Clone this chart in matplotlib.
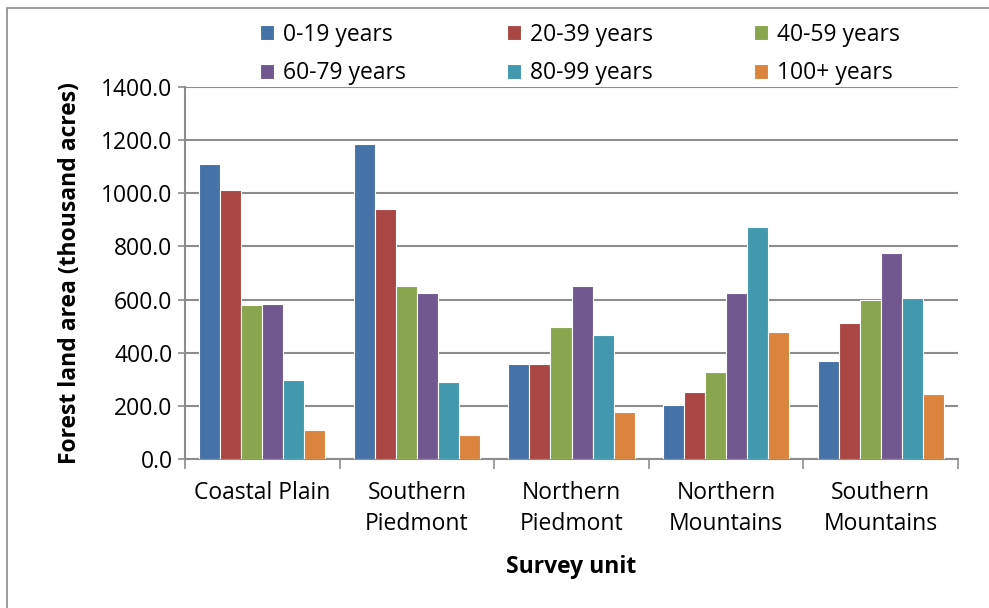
import numpy as np
import matplotlib
matplotlib.use("Agg")
import matplotlib.pyplot as plt
from matplotlib.patches import Rectangle
from matplotlib.ticker import FormatStrFormatter

# data
units = ["Coastal Plain", "Southern\nPiedmont", "Northern\nPiedmont",
         "Northern\nMountains", "Southern\nMountains"]
age_classes = ["0-19 years", "20-39 years", "40-59 years",
               "60-79 years", "80-99 years", "100+ years"]
age_0_19 = [1110, 1184, 356, 204, 370]
age_20_39 = [1012, 940, 356, 254, 510]
age_40_59 = [580, 651, 495, 328, 600]
age_60_79 = [583, 623, 651, 625, 774]
age_80_99 = [297, 288, 467, 874, 605]
age_100p = [110, 91, 178, 479, 245]
colors = ["#4572A7", "#AA4643", "#89A54E", "#71588F", "#4198AF", "#DB843D"]

series = [age_0_19, age_20_39, age_40_59, age_60_79, age_80_99, age_100p]

plt.rcParams['font.family'] = ['Open Sans', 'DejaVu Sans']
fs = 16.5

fig = plt.figure(figsize=(9.89, 6.08), dpi=100)
ax = fig.add_axes([185 / 989, 1 - 459 / 608, (958 - 185) / 989, (459 - 87) / 608])

# outer chart border
fig.patches.append(Rectangle((7 / 989, -0.1), 1.1, 1 - 8 / 608 + 0.1,
                             transform=fig.transFigure, fill=False,
                             edgecolor="#8c8c8c", linewidth=1.2))

x = np.arange(len(units))
w = 0.136
bars = []
for i, (vals, c, lab) in enumerate(zip(series, colors, age_classes)):
    b = ax.bar(x + (i - 2.5) * w, vals, width=w, color=c, edgecolor="white",
               linewidth=0.8, label=lab, zorder=3)
    bars.append(b)

ax.set_xlim(-0.5, 4.5)
ax.set_ylim(0, 1400)
ax.set_yticks(np.arange(0, 1401, 200))
ax.yaxis.set_major_formatter(FormatStrFormatter("%.1f"))
ax.grid(axis="y", color="#8c8c8c", linewidth=1.5, zorder=0)

ax.set_xticks(x)
ax.set_xticklabels(units, fontsize=fs, linespacing=1.35)
ax.set_xticks(np.arange(-0.5, 5, 1), minor=True)
ax.tick_params(axis="x", which="major", length=0, pad=16)
ax.tick_params(axis="x", which="minor", length=7, width=1.2, color="#8c8c8c")
ax.tick_params(axis="y", length=5, width=1.2, color="#8c8c8c", labelsize=fs, pad=4)

for s in ["top", "right"]:
    ax.spines[s].set_visible(False)
for s in ["left", "bottom"]:
    ax.spines[s].set_color("#8c8c8c")
    ax.spines[s].set_linewidth(1.5)

ax.set_ylabel("Forest land area (thousand acres)", fontsize=fs,
              fontweight="bold", labelpad=14)
ax.set_xlabel("Survey unit", fontsize=fs, fontweight="bold", labelpad=14)

# row-major legend order as in the reference
order = [0, 3, 1, 4, 2, 5]
fig.legend([bars[k] for k in order], [age_classes[k] for k in order],
           loc="center", bbox_to_anchor=(580 / 989, 1 - 54 / 608), ncol=3,
           frameon=False, fontsize=fs, handlelength=0.6, handleheight=0.6,
           handletextpad=0.4, columnspacing=4.4, labelspacing=0.65)

fig.savefig("out.png", dpi=100)
